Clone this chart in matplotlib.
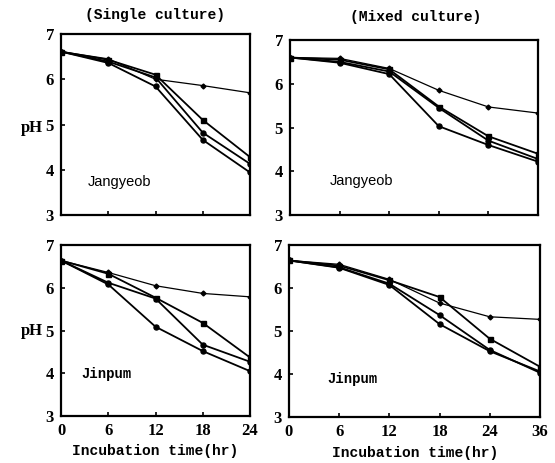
import matplotlib
matplotlib.use('Agg')
import matplotlib.pyplot as plt

# Incubation times (hr)
times_single = [0, 6, 12, 18, 24]
times_mixed = [0, 6, 12, 18, 24, 36]

# pH values, four treatments per panel
jang_single_a = [6.61, 6.45, 6.00, 5.86, 5.70]
jang_single_b = [6.61, 6.43, 6.10, 5.10, 4.28]
jang_single_c = [6.61, 6.39, 6.04, 4.82, 4.13]
jang_single_d = [6.61, 6.36, 5.84, 4.66, 3.94]

jang_mixed_a = [6.60, 6.58, 6.35, 5.85, 5.47, 5.33]
jang_mixed_b = [6.60, 6.55, 6.33, 5.48, 4.80, 4.40]
jang_mixed_c = [6.60, 6.50, 6.28, 5.45, 4.70, 4.28]
jang_mixed_d = [6.60, 6.48, 6.22, 5.03, 4.60, 4.22]

jin_single_a = [6.64, 6.36, 6.05, 5.87, 5.79]
jin_single_b = [6.64, 6.33, 5.77, 5.18, 4.37]
jin_single_c = [6.64, 6.12, 5.75, 4.67, 4.27]
jin_single_d = [6.64, 6.08, 5.09, 4.52, 4.05]

jin_mixed_a = [6.64, 6.55, 6.20, 5.65, 5.33, 5.27]
jin_mixed_b = [6.64, 6.52, 6.18, 5.79, 4.82, 4.17]
jin_mixed_c = [6.64, 6.48, 6.10, 5.37, 4.56, 4.03]
jin_mixed_d = [6.64, 6.47, 6.07, 5.16, 4.53, 4.06]

fig = plt.figure(figsize=(5.55, 4.63), dpi=100)
fig.patch.set_facecolor('white')

tick_font = {'family': 'Liberation Serif', 'weight': 'bold', 'size': 12}
mono_font = {'family': 'Liberation Mono', 'weight': 'bold', 'size': 10.5}


def draw_panel(rect, times, series, name, name_pos, name_font, show_x):
    ax = fig.add_axes(rect)
    xs = list(range(len(times))) if len(times) == 6 else times
    styles = [('D', 2.5, 0.9), ('s', 3.6, 1.3), ('o', 3.6, 1.3), ('o', 3.6, 1.3)]
    for vals, (m, ms, lw) in zip(series, styles):
        ax.plot(xs, vals, color='black', marker=m, markersize=ms, linewidth=lw)
    ax.set_xlim(xs[0], xs[-1])
    ax.set_ylim(3, 7)
    ax.set_yticks([3, 4, 5, 6, 7])
    ax.set_xticks(xs)
    if show_x:
        ax.set_xticklabels([str(t) for t in times], fontdict=tick_font)
    else:
        ax.set_xticklabels([])
    ax.set_yticklabels(['3', '4', '5', '6', '7'], fontdict=tick_font)
    ax.tick_params(direction='in', length=3, width=1.2, pad=5)
    for s in ax.spines.values():
        s.set_linewidth(1.6)
    ax.text(name_pos[0], name_pos[1], name, transform=ax.transAxes,
            fontdict=name_font)
    return ax


sans_font = {'family': 'Liberation Sans', 'size': 10.5}
jin_font = {'family': 'Liberation Mono', 'weight': 'bold', 'size': 10}

draw_panel([0.110, 0.5356, 0.3405, 0.391], times_single,
           [jang_single_a, jang_single_b, jang_single_c, jang_single_d],
           'Jangyeob', (0.14, 0.16), sans_font, False)
draw_panel([0.5225, 0.5356, 0.4468, 0.378], times_mixed,
           [jang_mixed_a, jang_mixed_b, jang_mixed_c, jang_mixed_d],
           'Jangyeob', (0.16, 0.17), sans_font, False)
draw_panel([0.110, 0.1015, 0.3405, 0.369], times_single,
           [jin_single_a, jin_single_b, jin_single_c, jin_single_d],
           'Jinpum', (0.11, 0.22), jin_font, True)
draw_panel([0.5207, 0.0994, 0.452, 0.3715], times_mixed,
           [jin_mixed_a, jin_mixed_b, jin_mixed_c, jin_mixed_d],
           'Jinpum', (0.155, 0.20), jin_font, True)

# titles, pH labels and x labels
fig.text(0.28, 0.968, '(Single culture)', ha='center', va='center', fontdict=mono_font)
fig.text(0.748, 0.964, '(Mixed culture)', ha='center', va='center', fontdict=mono_font)
fig.text(0.038, 0.723, 'pH', ha='left', va='center', fontdict=tick_font)
fig.text(0.038, 0.285, 'pH', ha='left', va='center', fontdict=tick_font)
fig.text(0.28, 0.026, 'Incubation time(hr)', ha='center', va='center', fontdict=mono_font)
fig.text(0.748, 0.022, 'Incubation time(hr)', ha='center', va='center', fontdict=mono_font)

fig.savefig('out.png', dpi=100)
